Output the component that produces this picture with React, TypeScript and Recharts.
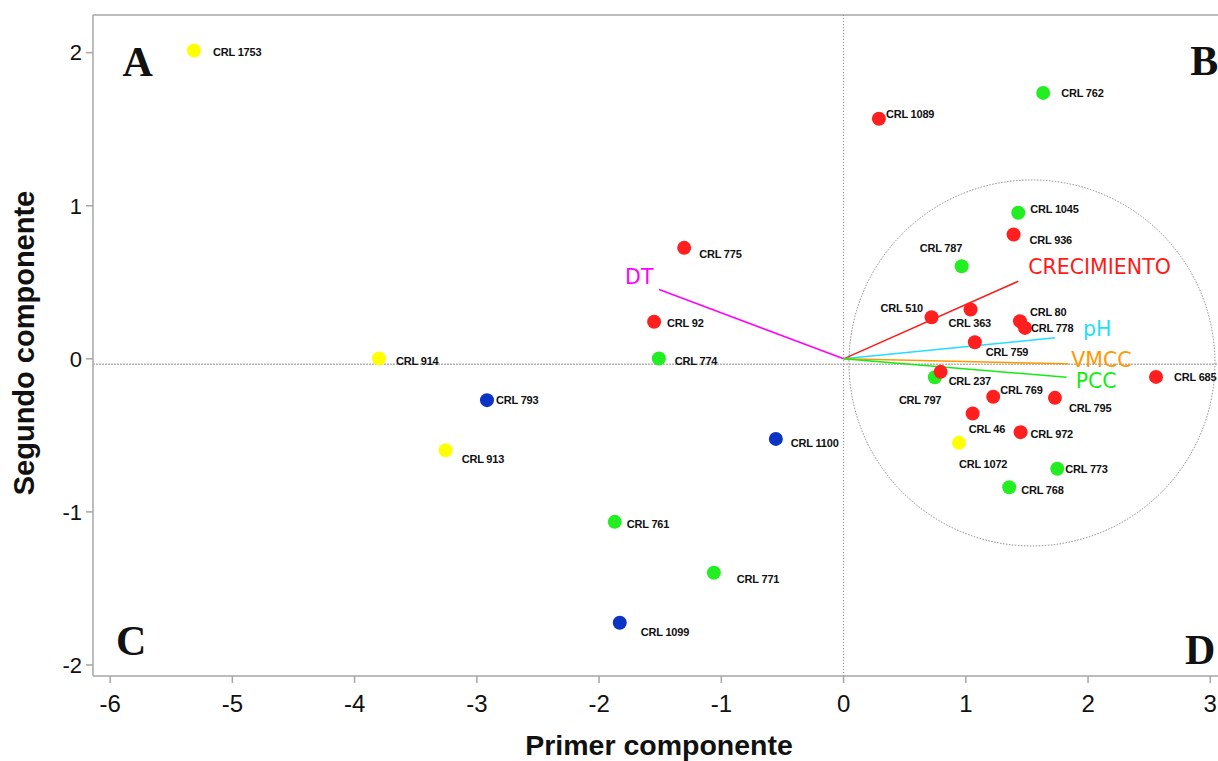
import { ScatterChart, Scatter, XAxis, YAxis, ReferenceLine, ReferenceDot } from 'recharts'

// strains (draw order matters where dots overlap)
const strainNames = [
  'CRL 1753', 'CRL 762', 'CRL 1089', 'CRL 1045', 'CRL 936', 'CRL 787', 'CRL 775', 'CRL 510',
  'CRL 363', 'CRL 80', 'CRL 778', 'CRL 759', 'CRL 92', 'CRL 774', 'CRL 914', 'CRL 797',
  'CRL 237', 'CRL 685', 'CRL 793', 'CRL 769', 'CRL 795', 'CRL 46', 'CRL 972', 'CRL 1100',
  'CRL 1072', 'CRL 913', 'CRL 773', 'CRL 768', 'CRL 761', 'CRL 771', 'CRL 1099',
]
const pc1Values = [
  -5.314, 1.633, 0.289, 1.429, 1.391, 0.966, -1.304, 0.72,
  1.039, 1.443, 1.484, 1.074, -1.55, -1.511, -3.8, 0.747,
  0.794, 2.556, -2.917, 1.224, 1.729, 1.056, 1.448, -0.554,
  0.944, -3.255, 1.748, 1.355, -1.872, -1.061, -1.831,
]
const pc2Values = [
  2.014, 1.737, 1.568, 0.954, 0.812, 0.605, 0.725, 0.272,
  0.322, 0.246, 0.202, 0.108, 0.242, 0.002, 0.002, -0.12,
  -0.085, -0.118, -0.27, -0.248, -0.255, -0.357, -0.479, -0.523,
  -0.549, -0.597, -0.718, -0.839, -1.065, -1.398, -1.724,
]
const strainGroups = [
  'yellow', 'green', 'red', 'green', 'red', 'green', 'red', 'red',
  'red', 'red', 'red', 'red', 'red', 'green', 'yellow', 'green',
  'red', 'red', 'blue', 'red', 'red', 'red', 'red', 'blue',
  'yellow', 'yellow', 'green', 'green', 'green', 'green', 'blue',
]

// variable loadings (vectors from origin)
const vectorNames = ['DT', 'CRECIMIENTO', 'pH', 'VMCC', 'PCC']
const vectorX = [-1.509, 1.429, 1.729, 1.838, 1.825]
const vectorY = [0.453, 0.507, 0.137, -0.033, -0.12]

const quadrantNames = ['A', 'B', 'C', 'D']
const quadrantX = [-5.898, 2.835, -5.952, 2.793]
const quadrantY = [1.847, 1.854, -1.935, -1.994]

const xTicks = [-6, -5, -4, -3, -2, -1, 0, 1, 2, 3]
const yTicks = [-2, -1, 0, 1, 2]
const xDomain: [number, number] = [-6.14, 3.063]
const yDomain: [number, number] = [-2.072, 2.246]

const groupColors: Record<string, string> = {
  red: '#ff1f1f',
  green: '#22ee22',
  yellow: '#ffff00',
  blue: '#0b33c4',
}
const vectorColors: Record<string, string> = {
  DT: '#ff00ff',
  CRECIMIENTO: '#ff1a1a',
  pH: '#22ddff',
  VMCC: '#ff9900',
  PCC: '#11ee11',
}

// label placement relative to dot centre (px)
const labelOffsets: Record<string, [number, number]> = {
  'CRL 1753': [19, 1], 'CRL 762': [18, 0], 'CRL 1089': [7, -5], 'CRL 1045': [12, -4],
  'CRL 936': [16, 5], 'CRL 787': [-42, -18], 'CRL 775': [15, 6], 'CRL 510': [-51, -9],
  'CRL 363': [-22, 13], 'CRL 80': [10, -9], 'CRL 778': [6, 0], 'CRL 759': [11, 10],
  'CRL 92': [13, 1], 'CRL 774': [16, 2], 'CRL 914': [17, 2], 'CRL 797': [-36, 23],
  'CRL 237': [8, 9], 'CRL 685': [18, 0], 'CRL 793': [9, 0], 'CRL 769': [7, -7],
  'CRL 795': [14, 10], 'CRL 46': [-4, 16], 'CRL 972': [10, 2], 'CRL 1100': [15, 4],
  'CRL 1072': [0, 21], 'CRL 913': [16, 9], 'CRL 773': [8, 0], 'CRL 768': [12, 3],
  'CRL 761': [12, 2], 'CRL 771': [23, 6], 'CRL 1099': [21, 9],
}
const vectorLabelOffsets: Record<string, [number, number]> = {
  DT: [-34, -5],
  CRECIMIENTO: [10, -7],
  pH: [28, -2],
  VMCC: [3, 3],
  PCC: [9, 11],
}

const strainData = strainNames.map((name, i) => ({
  name,
  x: pc1Values[i],
  y: pc2Values[i],
  group: strainGroups[i],
}))

const AXIS_GREY = '#a6a6a6'
const SANS = '"Liberation Sans", Arial, sans-serif'

const StrainDot = (props: any) => {
  const { cx, cy, payload } = props
  const [dx, dy] = labelOffsets[payload.name] ?? [14, 0]
  return (
    <g>
      <circle cx={cx} cy={cy} r={7} fill={groupColors[payload.group]} />
      <text
        x={cx + dx}
        y={cy + dy}
        dominantBaseline="central"
        fontFamily={SANS}
        fontWeight="bold"
        fontSize={11}
        letterSpacing={-0.2}
        fill="#111"
      >
        {payload.name}
      </text>
    </g>
  )
}

export default function App() {
  return (
    <div style={{ position: 'absolute', left: 0, top: 0, width: 1218, height: 761, background: '#fff' }}>
      <ScatterChart width={1218} height={761} margin={{ top: 15, right: 0, bottom: 0, left: 0 }}>
        <XAxis
          type="number"
          dataKey="x"
          domain={xDomain}
          ticks={xTicks}
          allowDataOverflow
          stroke={AXIS_GREY}
          strokeWidth={1.5}
          tickSize={7}
          tickMargin={12}
          height={85}
          tick={{ fill: '#111', fontSize: 24, fontFamily: SANS }}
          label={(p: any) => {
            const vb = p.viewBox
            return (
              <text x={vb.x + vb.width / 2 + 3.5} y={755} textAnchor="middle" fontFamily={SANS} fontWeight="bold" fontSize={28.5} fill="#111">
                Primer componente
              </text>
            )
          }}
        />
        <YAxis
          type="number"
          dataKey="y"
          domain={yDomain}
          ticks={yTicks}
          allowDataOverflow
          stroke={AXIS_GREY}
          strokeWidth={1.5}
          tickSize={7}
          tickMargin={4}
          width={93}
          tick={{ fill: '#111', fontSize: 22, fontFamily: SANS }}
          label={() => (
            <text x={33.5} y={343} transform="rotate(-90 33.5 343)" textAnchor="middle" fontFamily={SANS} fontWeight="bold" fontSize={29} fill="#111">
              Segundo componente
            </text>
          )}
        />

        {/* frame top and zero lines */}
        <ReferenceLine y={yDomain[1]} stroke={AXIS_GREY} strokeWidth={1.5} ifOverflow="visible" />
        <ReferenceLine x={0} stroke="#8c8c8c" strokeDasharray="1 2" />
        <ReferenceLine y={-0.035} stroke="#b4b4b4" strokeWidth={1.5} strokeDasharray="2 1" />

        {/* dotted cluster circle */}
        <ReferenceDot x={1.541} y={-0.027} r={183} fill="none" stroke="#8a8a8a" strokeWidth={1} strokeDasharray="1.5 1.5" />

        {vectorNames.map((v, i) => (
          <ReferenceLine
            key={v}
            segment={[{ x: 0, y: 0 }, { x: vectorX[i], y: vectorY[i] }]}
            stroke={vectorColors[v]}
            strokeWidth={1.5}
          />
        ))}
        {vectorNames.map((v, i) => (
          <ReferenceDot
            key={`lbl-${v}`}
            x={vectorX[i]}
            y={vectorY[i]}
            r={0}
            shape={(p: any) => (
              <text
                x={p.cx + vectorLabelOffsets[v][0]}
                y={p.cy + vectorLabelOffsets[v][1]}
                fontFamily='"DejaVu Sans", Verdana, sans-serif'
                fontSize={20.5}
                fill={vectorColors[v]}
              >
                {v}
              </text>
            )}
          />
        ))}

        {quadrantNames.map((q, i) => (
          <ReferenceDot
            key={q}
            x={quadrantX[i]}
            y={quadrantY[i]}
            r={0}
            shape={(p: any) => (
              <text x={p.cx} y={p.cy} fontFamily='"Liberation Serif", "Times New Roman", serif' fontWeight="bold" fontSize={42} fill="#111">
                {q}
              </text>
            )}
          />
        ))}

        <Scatter data={strainData} shape={StrainDot} isAnimationActive={false} />
      </ScatterChart>
    </div>
  )
}
